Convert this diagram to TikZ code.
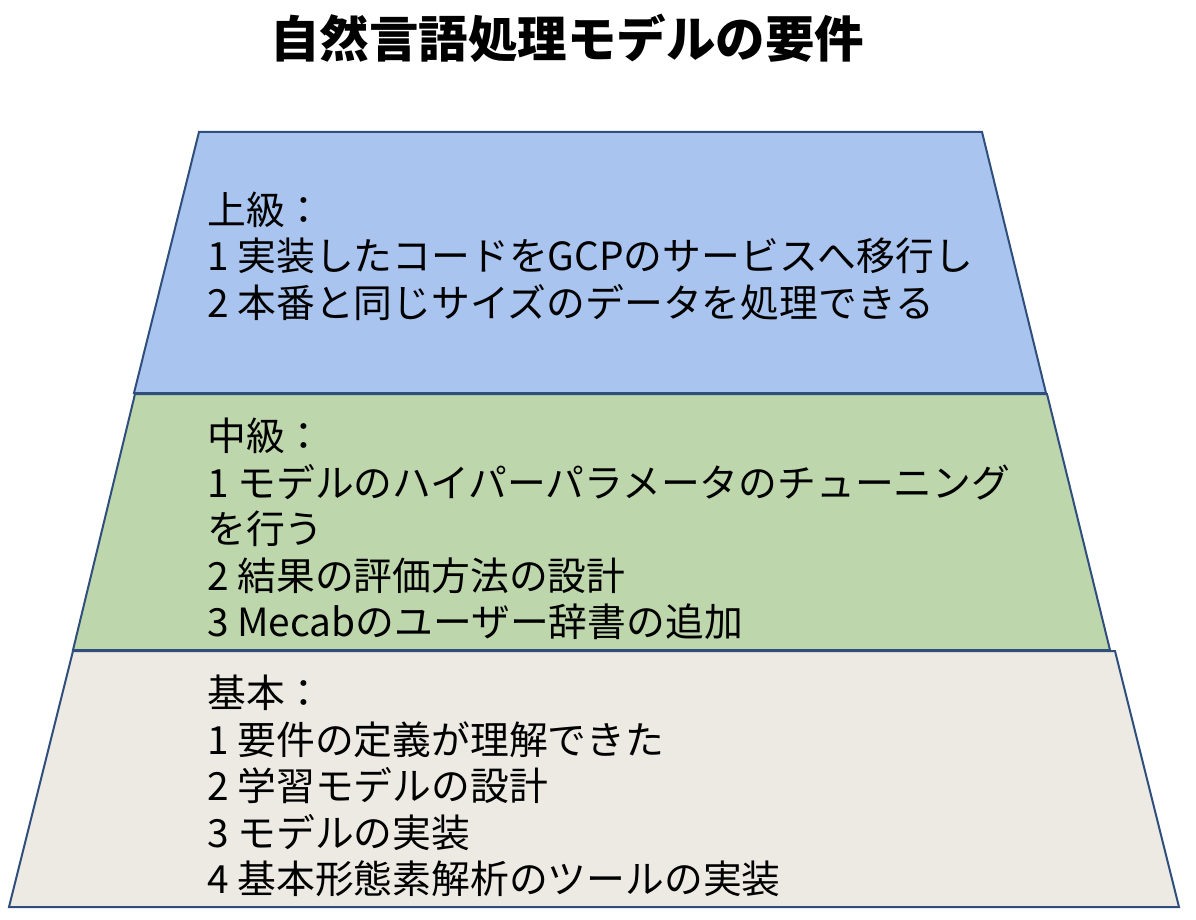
\documentclass[tikz,border=0pt]{standalone}
\usepackage{fontspec}
\setmainfont{Noto Sans CJK JP}
\usepackage{tikz}
\definecolor{topblue}{RGB}{169,196,238}
\definecolor{midgreen}{RGB}{189,214,172}
\definecolor{basegray}{RGB}{236,234,227}
\definecolor{edgeblue}{RGB}{47,78,124}
\tikzset{
  band/.style={draw=edgeblue,line width=2pt,line join=miter},
  bandtext/.style={anchor=west,align=left,inner sep=0pt,font=\fontsize{38.8}{46.5}\selectfont}
}
\begin{document}
\begin{tikzpicture}[x=1pt,y=-1pt]
\useasboundingbox (0,0) rectangle (1196,920);
\node[font=\fontsize{49.5}{55}\selectfont\bfseries] (title) at (567,38) {自然言語処理モデルの要件};
\draw[band,fill=topblue] (199,132) -- (982,132) -- (1046,393) -- (134,393) -- cycle;
\draw[band,fill=midgreen] (135,394) -- (1047,394) -- (1110,650) -- (73,650) -- cycle;
\draw[band,fill=basegray] (73,651) -- (1115,651) -- (1179,907) -- (9,907) -- cycle;
\node[bandtext] (upper) at (207,256) {上級：\\1 実装したコードをGCPのサービスへ移行し\\2 本番と同じサイズのデータを処理できる};
\node[bandtext] (middle) at (207,529) {中級：\\1 モデルのハイパーパラメータのチューニング\\を行う\\2 結果の評価方法の設計\\3 Mecabのユーザー辞書の追加};
\node[bandtext] (basic) at (207,786) {基本：\\1 要件の定義が理解できた\\2 学習モデルの設計\\3 モデルの実装\\4 基本形態素解析のツールの実装};
\end{tikzpicture}
\end{document}
